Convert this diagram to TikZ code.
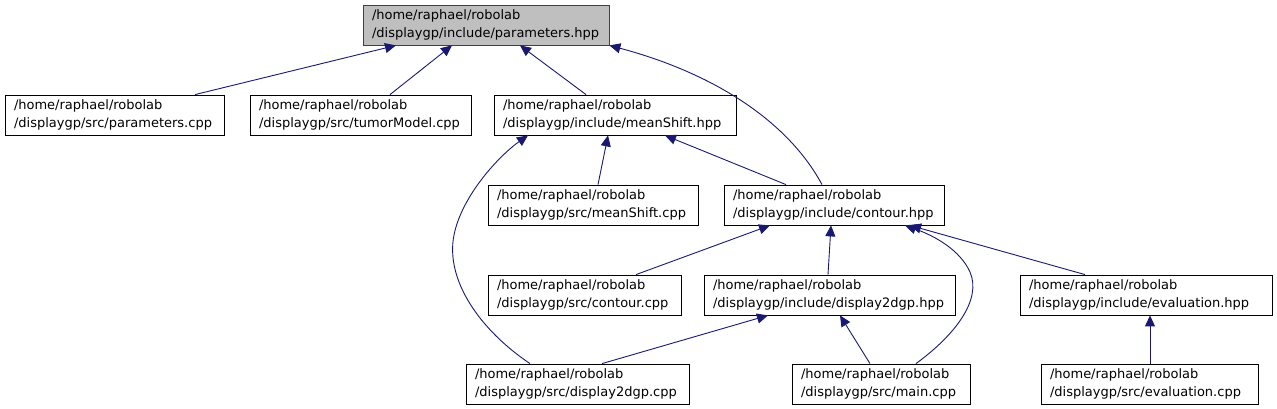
\documentclass[tikz,border=0pt]{standalone}
\usepackage{fontspec}
\setmainfont{DejaVu Sans}
\usetikzlibrary{arrows.meta}
\definecolor{edgec}{RGB}{25,25,112}
\definecolor{hdrfill}{RGB}{191,191,191}
\tikzset{
  fbox/.style={draw=black, line width=0.8pt, fill=white, minimum height=40pt, inner xsep=9pt, inner ysep=0pt,
    align=left, font=\fontsize{13}{18}\selectfont, anchor=center},
  dep/.style={draw=edgec, line width=0.9pt, -{Triangle[length=11pt,width=10pt]}},
}
\begin{document}
\begin{tikzpicture}[x=1pt,y=-1pt]
\useasboundingbox (0,0) rectangle (1277,409);
\newcommand{\fnode}[6]{% name, x1, x2, y1, text, extra
  \pgfmathsetmacro{\fnodew}{#3-#2}\pgfmathsetmacro{\fnodetw}{#3-#2-18}%
  \node[fbox,minimum width=\fnodew pt,text width=\fnodetw pt,#6] (#1) at ({(#2+#3)/2},{#4+20}) {#5};}
\fnode{ph}{363}{609}{5}{/home/raphael/robolab\\/displaygp/include/parameters.hpp}{fill=hdrfill,draw=black!75}
\fnode{pc}{5}{224}{95}{/home/raphael/robolab\\/displaygp/src/parameters.cpp}{}
\fnode{tc}{250}{471}{95}{/home/raphael/robolab\\/displaygp/src/tumorModel.cpp}{}
\fnode{mh}{494}{736}{95}{/home/raphael/robolab\\/displaygp/include/meanShift.hpp}{}
\fnode{mc}{488}{698}{185}{/home/raphael/robolab\\/displaygp/src/meanShift.cpp}{}
\fnode{ch}{724}{944}{185}{/home/raphael/robolab\\/displaygp/include/contour.hpp}{}
\fnode{cc}{488}{681}{275}{/home/raphael/robolab\\/displaygp/src/contour.cpp}{}
\fnode{dh}{704}{955}{275}{/home/raphael/robolab\\/displaygp/include/display2dgp.hpp}{}
\fnode{eh}{1020}{1272}{275}{/home/raphael/robolab\\/displaygp/include/evaluation.hpp}{}
\fnode{dc}{466}{689}{364}{/home/raphael/robolab\\/displaygp/src/display2dgp.cpp}{}
\fnode{mn}{792}{970}{364}{/home/raphael/robolab\\/displaygp/src/main.cpp}{}
\fnode{ec}{1041}{1258}{364}{/home/raphael/robolab\\/displaygp/src/evaluation.cpp}{}

\draw[dep] (pc.north -| 195,0) -- (ph.south -| 396,0);
\draw[dep] (tc.north -| 390,0) -- (ph.south -| 452,0);
\draw[dep] (mh.north -| 586,0) -- (ph.south -| 520,0);
\draw[dep] (ch.north -| 822,0) .. controls (790,125) and (720,75) .. (ph.south east);
\draw[dep] (mc.north -| 598,0) -- (mh.south -| 608,0);
\draw[dep] (ch.north -| 786,0) -- (mh.south -| 665,0);
\draw[dep] (dc.north -| 530,0) .. controls (480,330) and (445,280) .. (454,235) .. controls (462,195) and (500,155) .. (mh.south -| 528,0);
\draw[dep] (cc.north -| 636,0) -- (ch.south -| 770,0);
\draw[dep] (dh.north -| 828,0) -- (ch.south -| 831,0);
\draw[dep] (mn.north -| 916,0) .. controls (955,335) and (982,300) .. (970,272) .. controls (960,250) and (935,236) .. (ch.south -| 905,0);
\draw[dep] (eh.north -| 1085,0) -- (ch.south -| 910,0);
\draw[dep] (dc.north -| 602,0) -- (dh.south -| 768,0);
\draw[dep] (mn.north -| 870,0) -- (dh.south -| 840,0);
\draw[dep] (ec.north -| 1150,0) -- (eh.south -| 1150,0);
\end{tikzpicture}
\end{document}
